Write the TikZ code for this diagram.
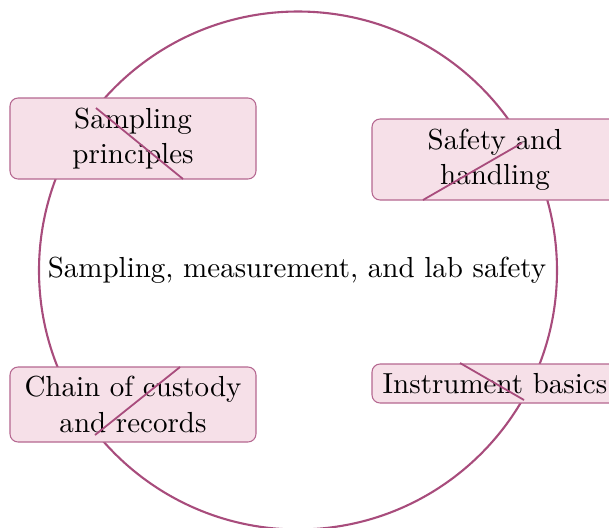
\documentclass[tikz,border=0pt]{standalone}
\usetikzlibrary{positioning}
\definecolor{theme}{RGB}{168,76,124}
\definecolor{topicfill}{RGB}{246,224,232}
\tikzset{
  topic/.style={draw=theme!85, line width=0.35pt, fill=topicfill, rounded corners=2.7pt,
    align=center, minimum width=82pt, inner sep=3pt},
  ring/.style={draw=theme, line width=0.7pt},
  spoke/.style={draw=theme, line width=0.6pt}
}
\begin{document}
\begin{tikzpicture}[x=0.33333pt,y=-0.33333pt,font=\fontsize{9.67}{11.8}\selectfont]
\useasboundingbox (0,0) rectangle (609,527);
\clip (0,0) rectangle (609,527);
\node[draw=none] (center) at (297,270) {Sampling, measurement, and lab safety};
\draw[ring] (298,270.5) circle (86.33pt);
\node[topic, minimum height=27pt] (samp) at (133,138.5) {Sampling\\principles};
\node[topic, minimum height=27pt] (safe) at (495,159.5) {Safety and\\handling};
\node[topic, minimum height=25pt] (chain) at (133,404.5) {Chain of custody\\and records};
\node[topic, minimum height=13pt] (inst) at (495,383.5) {Instrument basics};
\coordinate (a1) at (96,108); \coordinate (a2) at (183,179);
\coordinate (b1) at (423,200); \coordinate (b2) at (522,143);
\coordinate (c1) at (95,435); \coordinate (c2) at (180,367);
\coordinate (d1) at (460,363); \coordinate (d2) at (524,400);
\draw[spoke] (a1) -- (a2);
\draw[spoke] (b1) -- (b2);
\draw[spoke] (c1) -- (c2);
\draw[spoke] (d1) -- (d2);
\end{tikzpicture}
\end{document}
